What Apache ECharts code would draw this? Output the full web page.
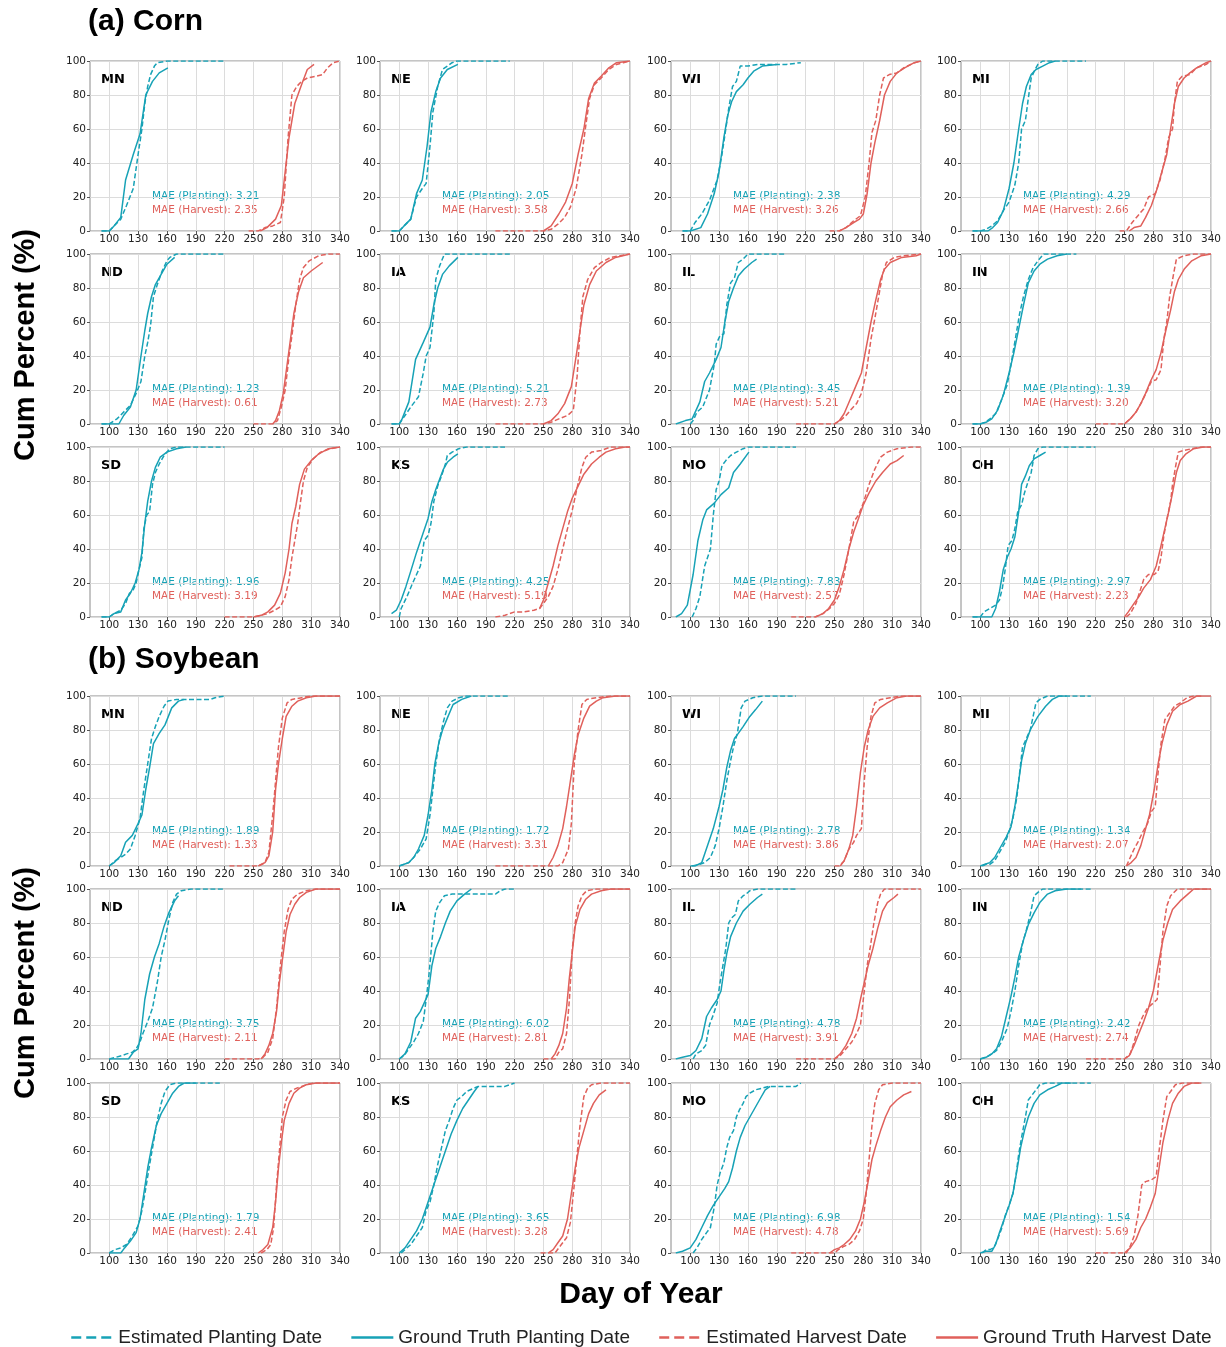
<!DOCTYPE html>
<html>
<head>
<meta charset="utf-8">
<script src="https://cdn.jsdelivr.net/npm/echarts@6/dist/echarts.min.js"></script>
<style>
  html, body { margin: 0; padding: 0; background: #fff; }
  #main { width: 1226px; height: 1347px; }
</style>
</head>
<body>
<div id="main"></div>
<script>
// state order: rows of 4, three rows per crop
const states = ["MN", "NE", "WI", "MI", "ND", "IA", "IL", "IN", "SD", "KS", "MO", "OH"];
const xTicks = [100, 130, 160, 190, 220, 250, 280, 310, 340];
const seriesNames = [
  "Estimated Planting Date",
  "Ground Truth Planting Date",
  "Estimated Harvest Date",
  "Ground Truth Harvest Date"
];

const cornMaePlant = [3.21, 2.05, 2.38, 4.29, 1.23, 5.21, 3.45, 1.39, 1.96, 4.25, 7.83, 2.97];
const cornMaeHarv = [2.35, 3.58, 3.26, 2.66, 0.61, 2.73, 5.21, 3.20, 3.19, 5.19, 2.57, 2.23];
const soyMaePlant = [1.89, 1.72, 2.78, 1.34, 3.75, 6.02, 4.78, 2.42, 1.79, 3.65, 6.98, 1.54];
const soyMaeHarv = [1.33, 3.31, 3.86, 2.07, 2.11, 2.81, 3.91, 2.74, 2.41, 3.28, 4.78, 5.69];

// each panel: [est planting, truth planting, est harvest, truth harvest], points are [day, cum %]
const cornMN = [
  [[92,0],[100,0],[105,3],[112,7],[118,15],[125,25],[130,45],[134,60],[137,75],[140,85],[143,92],[147,97],[150,99],[160,100],[220,100]],
  [[92,0],[100,0],[105,3],[112,8],[117,30],[125,45],[132,57],[138,80],[145,88],[152,93],[161,96]],
  [[245,0],[255,0],[262,2],[270,3],[278,5],[282,20],[286,55],[290,80],[295,85],[300,88],[306,90],[315,91],[322,92],[327,96],[333,99],[340,100]],
  [[257,0],[264,2],[273,7],[279,15],[283,35],[287,55],[293,75],[300,86],[306,95],[313,98]]
];
const cornNE = [
  [[92,0],[100,0],[105,3],[112,7],[118,20],[124,25],[128,28],[132,50],[135,70],[140,85],[145,95],[155,99],[160,100],[215,100]],
  [[92,0],[100,0],[105,3],[112,7],[118,22],[124,30],[129,50],[133,70],[138,82],[143,90],[150,95],[161,98]],
  [[200,0],[250,0],[258,1],[265,4],[272,8],[278,14],[284,25],[290,45],[294,62],[298,78],[303,86],[310,90],[318,95],[326,98],[333,99],[340,100]],
  [[250,0],[258,3],[266,10],[273,17],[280,28],[286,45],[292,60],[297,78],[303,87],[310,91],[318,96],[326,99],[340,100]]
];
const cornWI = [
  [[92,0],[100,0],[105,5],[112,10],[120,18],[128,30],[133,45],[137,60],[140,72],[144,85],[148,88],[152,97],[160,97],[170,98],[200,98],[215,99]],
  [[92,0],[100,0],[111,2],[118,10],[125,22],[130,35],[135,55],[139,68],[143,76],[148,82],[155,86],[160,90],[166,94],[175,97],[190,98]],
  [[245,0],[255,0],[262,2],[270,6],[277,9],[282,20],[286,40],[289,58],[293,65],[297,80],[301,90],[307,92],[315,93],[322,96],[333,99],[340,100]],
  [[255,0],[262,2],[270,5],[276,7],[280,10],[284,22],[288,40],[292,52],[297,65],[302,80],[308,88],[315,93],[323,96],[333,99],[340,100]]
];
const cornMI = [
  [[92,0],[100,0],[106,1],[112,3],[118,6],[124,12],[130,17],[136,27],[140,40],[143,60],[147,65],[150,78],[153,90],[157,95],[160,98],[165,100],[210,100]],
  [[92,0],[100,0],[108,0],[113,2],[118,5],[124,12],[130,25],[135,40],[140,60],[144,75],[148,85],[153,92],[158,95],[165,97],[172,99],[178,100]],
  [[245,0],[252,0],[258,5],[264,9],[270,13],[275,20],[282,22],[287,30],[292,42],[296,55],[300,60],[302,75],[305,88],[310,91],[318,92],[325,96],[335,98],[340,100]],
  [[255,0],[260,2],[267,3],[272,8],[278,15],[284,25],[289,35],[294,45],[298,60],[302,75],[306,85],[312,90],[318,93],[325,96],[335,99],[340,100]]
];
const cornND = [
  [[92,0],[100,0],[108,3],[115,7],[122,11],[128,18],[133,25],[137,40],[140,48],[143,58],[146,75],[150,82],[155,90],[160,96],[163,98],[170,100],[220,100]],
  [[92,0],[100,0],[110,0],[115,5],[122,10],[128,20],[133,40],[137,55],[140,65],[144,75],[148,82],[154,88],[160,94],[168,98]],
  [[250,0],[270,0],[275,2],[279,10],[283,20],[287,40],[290,52],[294,70],[298,85],[302,92],[308,96],[318,99],[328,100],[340,100]],
  [[270,0],[273,2],[277,8],[281,18],[285,35],[289,52],[292,65],[297,78],[302,86],[310,90],[322,95]]
];
const cornIA = [
  [[92,0],[100,0],[106,5],[112,10],[120,16],[125,30],[128,40],[132,45],[136,65],[138,85],[142,93],[147,100],[160,100],[215,100]],
  [[92,0],[100,0],[103,3],[110,13],[117,38],[125,48],[132,57],[136,70],[140,80],[145,88],[152,93],[161,98]],
  [[200,0],[250,0],[258,1],[266,3],[275,5],[281,8],[285,28],[288,55],[291,75],[296,85],[303,92],[310,95],[320,98],[330,99],[340,100]],
  [[250,0],[258,2],[265,6],[272,12],[279,22],[284,40],[288,55],[292,70],[298,82],[305,90],[315,95],[325,98],[340,100]]
];
const cornIL = [
  [[100,0],[103,2],[107,7],[113,10],[120,20],[125,35],[127,47],[131,52],[135,53],[138,70],[142,83],[146,86],[150,95],[155,97],[160,100],[200,100]],
  [[85,0],[95,2],[102,3],[106,8],[110,13],[115,25],[120,30],[127,38],[132,45],[136,60],[140,72],[145,80],[150,87],[156,91],[164,95],[169,97]],
  [[210,0],[250,0],[256,2],[262,5],[268,9],[273,12],[278,18],[283,30],[288,50],[292,62],[296,75],[300,88],[304,95],[312,98],[322,99],[340,100]],
  [[250,0],[255,2],[260,6],[266,14],[272,22],[278,30],[283,45],[288,60],[293,73],[298,85],[302,91],[308,95],[320,98],[335,99],[340,100]]
];
const cornIN = [
  [[92,0],[100,0],[105,1],[110,3],[116,6],[122,14],[128,23],[132,35],[135,45],[138,55],[141,65],[145,75],[150,85],[155,92],[160,96],[166,100],[200,100]],
  [[92,0],[100,0],[106,1],[112,3],[118,8],[124,17],[130,30],[135,42],[140,56],[145,70],[150,83],[156,90],[162,94],[170,97],[180,99],[190,100]],
  [[220,0],[250,0],[256,3],[262,7],[268,13],[273,19],[278,25],[283,26],[288,32],[291,50],[294,60],[297,75],[301,88],[304,97],[312,99],[322,100],[340,100]],
  [[250,0],[256,3],[262,7],[267,12],[272,18],[277,25],[283,32],[288,42],[293,55],[298,67],[302,78],[306,85],[312,91],[320,96],[330,99],[340,100]]
];
const cornSD = [
  [[92,0],[100,0],[105,2],[112,4],[117,8],[121,14],[125,16],[128,20],[131,28],[134,35],[136,52],[139,60],[142,62],[145,78],[148,85],[152,90],[157,95],[163,99],[170,100],[220,100]],
  [[92,0],[100,0],[105,2],[112,3],[117,10],[122,14],[127,20],[131,28],[134,38],[137,55],[140,68],[144,80],[148,88],[153,94],[160,97],[170,99],[180,100]],
  [[220,0],[250,0],[258,1],[265,2],[272,4],[278,6],[283,12],[287,22],[290,35],[293,45],[296,55],[299,68],[302,80],[306,88],[312,93],[320,97],[330,99],[340,100]],
  [[250,0],[258,1],[265,3],[272,7],[278,14],[283,26],[287,40],[290,55],[294,65],[298,78],[303,87],[310,92],[318,96],[328,99],[340,100]]
];
const cornKS = [
  [[100,0],[102,5],[108,12],[114,20],[118,25],[122,30],[126,45],[130,48],[133,55],[136,68],[140,77],[144,83],[148,90],[150,95],[155,97],[162,99],[170,100],[210,100]],
  [[92,2],[97,4],[102,10],[107,18],[112,27],[118,38],[124,48],[130,58],[134,68],[138,75],[142,81],[146,87],[150,91],[156,94],[161,96]],
  [[200,0],[210,1],[220,3],[230,3],[240,4],[246,5],[250,8],[255,12],[260,18],[265,28],[270,40],[275,52],[280,63],[285,76],[290,88],[294,94],[300,97],[310,98],[320,100],[340,100]],
  [[246,5],[250,10],[255,20],[260,30],[265,42],[270,52],[275,62],[280,70],[286,77],[292,84],[300,90],[308,94],[315,97],[325,99],[335,100],[340,100]]
];
const cornMO = [
  [[102,0],[106,5],[110,12],[115,30],[118,35],[121,40],[124,60],[127,75],[130,80],[133,89],[137,92],[142,95],[148,97],[155,99],[160,100],[210,100]],
  [[85,0],[91,2],[97,7],[103,25],[108,45],[113,57],[117,63],[125,67],[132,72],[140,76],[145,85],[152,90],[161,97]],
  [[205,0],[230,0],[238,2],[245,5],[250,8],[255,13],[260,25],[265,40],[270,56],[275,60],[280,67],[286,78],[292,87],[298,94],[305,97],[315,99],[330,100],[340,100]],
  [[230,0],[238,2],[244,5],[250,10],[255,18],[260,28],[265,40],[270,50],[275,58],[280,66],[286,73],[293,80],[300,85],[308,90],[315,92],[322,95]]
];
const cornOH = [
  [[92,0],[100,0],[104,3],[110,5],[116,7],[120,10],[123,17],[126,28],[129,42],[133,45],[136,52],[139,62],[143,66],[146,73],[150,80],[153,85],[156,95],[160,99],[165,100],[220,100]],
  [[92,0],[100,0],[112,0],[116,5],[120,15],[124,28],[128,35],[132,40],[136,47],[140,62],[143,78],[147,83],[151,89],[156,93],[162,95],[168,97]],
  [[252,0],[256,2],[262,8],[266,15],[270,22],[275,25],[281,25],[285,27],[288,35],[291,48],[294,57],[298,68],[300,78],[303,88],[306,97],[312,98],[320,99],[330,100],[340,100]],
  [[250,0],[254,3],[260,8],[265,12],[270,17],[277,22],[283,30],[288,42],[292,52],[296,62],[300,73],[304,85],[308,92],[314,96],[322,99],[332,100],[340,100]]
];

const soyMN = [
  [[100,0],[106,3],[112,5],[117,7],[122,10],[127,18],[132,28],[136,45],[140,60],[144,75],[148,82],[152,88],[157,94],[161,97],[170,98],[190,98],[205,98],[210,99],[220,100]],
  [[100,0],[105,2],[112,6],[117,14],[124,18],[130,25],[134,30],[138,45],[142,58],[146,72],[152,78],[158,83],[165,93],[172,97],[178,98]],
  [[225,0],[255,0],[262,2],[266,8],[270,30],[273,50],[276,70],[280,87],[285,96],[290,98],[300,99],[310,100],[340,100]],
  [[255,0],[262,2],[266,6],[270,20],[273,45],[276,60],[280,75],[284,88],[290,94],[296,97],[305,99],[315,100],[340,100]]
];
const soyNE = [
  [[100,0],[105,1],[110,2],[115,5],[122,10],[128,16],[132,30],[135,45],[138,60],[142,75],[146,85],[150,93],[155,97],[162,99],[170,100],[215,100]],
  [[100,0],[105,1],[110,2],[115,5],[120,10],[126,18],[130,30],[134,45],[137,60],[141,72],[145,80],[150,87],[156,95],[165,98],[175,100]],
  [[200,0],[265,0],[270,2],[276,10],[279,25],[282,60],[286,80],[290,95],[295,98],[305,99],[320,100],[340,100]],
  [[255,0],[260,5],[265,12],[270,22],[274,35],[278,50],[282,65],[286,77],[292,87],[298,94],[305,97],[312,99],[325,100],[340,100]]
];
const soyWI = [
  [[102,0],[110,1],[115,2],[121,5],[126,12],[130,22],[134,35],[138,50],[142,62],[145,70],[149,78],[153,93],[157,97],[165,99],[175,100],[210,100]],
  [[100,0],[105,0],[112,2],[118,12],[124,22],[130,35],[134,45],[138,58],[142,68],[146,75],[150,78],[155,82],[162,88],[168,92],[175,97]],
  [[250,0],[255,0],[260,3],[265,10],[270,14],[273,18],[278,22],[281,50],[284,70],[288,88],[292,96],[298,98],[308,99],[320,100],[340,100]],
  [[256,0],[260,3],[265,10],[269,18],[273,35],[277,55],[281,70],[285,80],[290,88],[297,93],[305,96],[315,99],[325,100],[340,100]]
];
const soyMI = [
  [[102,0],[106,1],[110,1],[115,3],[120,8],[126,14],[130,20],[134,28],[138,40],[141,55],[144,70],[148,75],[152,80],[155,88],[158,96],[162,98],[170,100],[215,100]],
  [[100,0],[105,1],[110,2],[115,5],[120,10],[127,17],[132,23],[136,35],[140,50],[143,62],[147,72],[152,80],[160,88],[168,94],[175,98],[182,100],[190,100]],
  [[252,0],[256,5],[260,10],[264,14],[269,20],[274,25],[278,32],[282,35],[285,55],[288,72],[292,86],[297,90],[302,94],[308,96],[315,99],[322,100],[330,100]],
  [[252,0],[257,2],[262,5],[267,12],[271,20],[276,30],[281,45],[285,60],[289,72],[294,83],[300,91],[308,95],[316,97],[325,100],[340,100]]
];
const soyND = [
  [[100,0],[107,1],[113,2],[118,3],[124,4],[128,6],[132,10],[135,15],[140,22],[145,30],[150,45],[154,60],[158,70],[162,82],[166,92],[170,97],[175,99],[185,100],[220,100]],
  [[100,0],[110,0],[120,0],[125,4],[130,6],[133,15],[137,35],[142,50],[147,60],[152,68],[157,78],[162,86],[168,93],[172,96]],
  [[220,0],[255,0],[260,1],[265,4],[270,12],[274,30],[278,55],[282,75],[286,88],[290,94],[296,97],[305,99],[315,100],[340,100]],
  [[258,0],[262,3],[266,8],[270,15],[274,28],[277,45],[280,58],[284,75],[288,85],[293,91],[298,95],[305,98],[315,100],[340,100]]
];
const soyIA = [
  [[100,0],[105,2],[110,6],[115,10],[120,15],[125,22],[128,35],[131,50],[135,75],[138,87],[142,92],[147,96],[155,97],[170,97],[190,97],[200,97],[205,99],[210,100],[220,100]],
  [[100,0],[106,3],[112,10],[117,24],[122,28],[126,33],[130,38],[134,55],[138,65],[143,72],[148,80],[153,87],[160,93],[168,97],[175,100]],
  [[250,0],[262,0],[266,4],[270,6],[274,15],[277,35],[280,65],[283,80],[286,90],[290,96],[295,99],[305,100],[340,100]],
  [[258,0],[262,3],[266,8],[270,15],[274,30],[277,48],[280,63],[283,78],[288,88],[294,94],[300,97],[310,99],[320,100],[340,100]]
];
const soyIL = [
  [[103,0],[106,3],[112,5],[116,8],[120,20],[124,26],[128,33],[131,45],[134,55],[137,65],[140,80],[143,83],[147,85],[150,93],[155,96],[158,97],[162,99],[170,100],[210,100]],
  [[85,0],[92,1],[100,2],[106,5],[112,12],[117,25],[122,30],[128,35],[132,40],[135,52],[138,62],[142,72],[148,80],[155,87],[162,91],[170,95],[175,97]],
  [[210,0],[250,0],[256,2],[262,6],[268,10],[273,15],[277,20],[280,35],[284,55],[287,65],[291,80],[295,92],[298,97],[302,100],[340,100]],
  [[250,0],[256,3],[262,8],[268,15],[273,24],[277,35],[281,45],[285,55],[290,65],[295,77],[300,87],[305,92],[312,95],[316,97]]
];
const soyIN = [
  [[100,0],[106,1],[112,3],[117,5],[122,10],[128,18],[132,28],[136,40],[140,55],[144,68],[148,76],[152,85],[156,96],[160,98],[165,100],[215,100]],
  [[100,0],[106,1],[112,3],[117,6],[122,13],[127,25],[132,37],[136,48],[140,60],[145,70],[150,79],[156,86],[162,92],[170,97],[178,99],[190,100],[205,100]],
  [[210,0],[250,0],[256,3],[260,10],[265,20],[269,25],[274,30],[280,33],[284,35],[287,55],[290,75],[294,90],[298,96],[305,100],[340,100]],
  [[250,0],[255,2],[260,8],[265,15],[270,22],[275,30],[280,40],[285,55],[290,70],[295,80],[300,88],[308,93],[316,97],[322,100],[340,100]]
];
const soySD = [
  [[100,0],[106,2],[112,3],[118,5],[124,10],[130,16],[134,25],[138,38],[142,52],[146,65],[150,78],[154,88],[158,95],[163,99],[170,100],[215,100]],
  [[100,0],[108,0],[112,0],[116,3],[122,7],[128,12],[132,20],[136,35],[140,50],[144,62],[149,75],[154,82],[160,88],[166,94],[172,98],[178,100],[190,100]],
  [[258,0],[264,2],[268,5],[271,15],[274,40],[277,60],[280,80],[284,90],[288,95],[295,97],[305,99],[312,100],[340,100]],
  [[255,0],[260,2],[265,5],[270,15],[273,30],[276,50],[279,65],[282,78],[287,88],[292,94],[298,97],[305,99],[315,100],[340,100]]
];
const soyKS = [
  [[102,0],[106,2],[112,5],[118,10],[124,15],[128,25],[132,30],[136,40],[140,52],[144,62],[148,72],[152,78],[156,85],[160,90],[165,92],[170,95],[178,97],[182,98],[190,98],[210,98],[215,99],[220,100]],
  [[100,0],[106,3],[112,8],[118,13],[124,20],[130,30],[136,40],[142,50],[148,60],[154,70],[160,78],[166,85],[172,90],[178,95],[182,98]],
  [[247,0],[262,0],[266,3],[270,6],[274,9],[278,18],[282,40],[285,58],[288,75],[292,92],[296,97],[300,99],[310,100],[340,100]],
  [[255,0],[260,2],[265,6],[270,10],[275,20],[279,35],[283,50],[287,62],[292,72],[297,82],[302,88],[308,93],[315,96]]
];
const soyMO = [
  [[103,0],[107,3],[112,8],[117,12],[121,15],[125,27],[128,40],[131,47],[135,53],[138,62],[141,68],[145,72],[148,80],[151,84],[155,88],[158,92],[162,94],[168,96],[175,97],[182,98],[210,98],[215,100]],
  [[85,0],[92,1],[100,3],[106,8],[112,15],[118,22],[124,28],[130,33],[136,38],[140,42],[144,50],[148,60],[152,68],[157,75],[162,80],[167,85],[172,90],[178,96],[183,98]],
  [[205,0],[250,0],[254,2],[260,4],[265,5],[271,8],[276,13],[280,20],[283,35],[286,55],[289,75],[292,88],[296,96],[300,99],[310,100],[340,100]],
  [[245,0],[250,2],[255,3],[260,5],[266,8],[272,13],[277,20],[281,30],[285,42],[289,55],[293,63],[298,72],[303,80],[308,86],[315,90],[322,93],[330,95]]
];
const soyOH = [
  [[102,0],[106,2],[110,2],[114,3],[118,8],[122,14],[126,22],[130,28],[134,35],[137,45],[140,58],[143,68],[147,80],[150,90],[154,93],[158,96],[162,99],[168,100],[215,100]],
  [[100,0],[106,1],[112,1],[116,5],[120,12],[125,20],[130,28],[134,35],[138,48],[142,62],[146,72],[150,80],[156,88],[162,93],[170,96],[178,98],[185,100],[195,100]],
  [[220,0],[252,0],[256,4],[260,10],[264,22],[268,40],[272,42],[278,43],[283,45],[286,60],[290,78],[294,92],[298,95],[303,99],[310,100],[330,100]],
  [[250,0],[256,3],[262,8],[267,15],[272,20],[277,27],[282,35],[286,50],[290,65],[295,78],[300,88],[306,94],[312,98],[320,100],[330,100]]
];

const cornPanels = [cornMN, cornNE, cornWI, cornMI, cornND, cornIA, cornIL, cornIN, cornSD, cornKS, cornMO, cornOH];
const soyPanels = [soyMN, soyNE, soyWI, soyMI, soyND, soyIA, soyIL, soyIN, soySD, soyKS, soyMO, soyOH];

const TEAL = "#17a2b6";
const RED = "#e0605b";
const FONT = "DejaVu Sans";
const HEAD_FONT = "Liberation Sans";
const colLeft = [90, 380, 671, 961];
const rowTops = [61, 254, 447, 696, 889, 1083];
const panelW = 250;
const panelH = 170;

const chart = echarts.init(document.getElementById("main"), null, { renderer: "canvas" });

const grids = [], xAxes = [], yAxes = [], series = [], graphics = [];
const crops = [
  { panels: cornPanels, maeP: cornMaePlant, maeH: cornMaeHarv },
  { panels: soyPanels, maeP: soyMaePlant, maeH: soyMaeHarv }
];

crops.forEach((crop, ci) => {
  crop.panels.forEach((lines, k) => {
    const idx = grids.length;
    const left = colLeft[k % 4];
    const top = rowTops[ci * 3 + Math.floor(k / 4)];
    grids.push({
      left: left, top: top, width: panelW, height: panelH,
      show: true, borderColor: "#8a8a8a", borderWidth: 1, backgroundColor: "transparent"
    });
    xAxes.push({
      type: "value", gridIndex: idx, min: 80, max: 340,
      axisLine: { show: false },
      axisTick: { show: true, customValues: xTicks, length: 3, lineStyle: { color: "#555" } },
      axisLabel: { customValues: xTicks, fontSize: 10.5, color: "#222", fontFamily: FONT, margin: 3 },
      splitLine: { show: true, lineStyle: { color: "#dcdcdc", width: 1 } }
    });
    yAxes.push({
      type: "value", gridIndex: idx, min: 0, max: 100, interval: 20,
      axisLine: { show: false },
      axisTick: { show: true, length: 3, lineStyle: { color: "#555" } },
      axisLabel: { fontSize: 10.5, color: "#222", fontFamily: FONT, margin: 4 },
      splitLine: { show: true, lineStyle: { color: "#dcdcdc", width: 1 } }
    });
    lines.forEach((pts, j) => {
      series.push({
        name: seriesNames[j],
        type: "line",
        xAxisIndex: idx, yAxisIndex: idx,
        data: pts,
        symbol: "none",
        animation: false,
        z: j % 2 === 0 ? 3 : 2,
        lineStyle: {
          color: j < 2 ? TEAL : RED,
          width: 1.5,
          type: j % 2 === 0 ? [5, 2.5] : "solid"
        },
        itemStyle: { color: j < 2 ? TEAL : RED }
      });
    });
    graphics.push({
      type: "text", left: left + 11, top: top + 12,
      style: { text: states[k], font: "bold 13px " + FONT, fill: "#000" }
    });
    graphics.push({
      type: "text", left: left + 62, top: top + 130,
      style: { text: "MAE (Planting): " + crop.maeP[k].toFixed(2), font: "10.5px " + FONT, fill: TEAL }
    });
    graphics.push({
      type: "text", left: left + 62, top: top + 144,
      style: { text: "MAE (Harvest): " + crop.maeH[k].toFixed(2), font: "10.5px " + FONT, fill: RED }
    });
  });
});

// panel titles and shared axis titles
graphics.push({ type: "text", x: 88, y: 22, style: { text: "(a) Corn", font: "bold 30px " + HEAD_FONT, fill: "#000", verticalAlign: "middle" } });
graphics.push({ type: "text", x: 88, y: 660, style: { text: "(b) Soybean", font: "bold 30px " + HEAD_FONT, fill: "#000", verticalAlign: "middle" } });
[345, 983].forEach(cy => {
  graphics.push({
    type: "text", x: 26, y: cy, rotation: Math.PI / 2,
    style: { text: "Cum Percent (%)", font: "bold 29px " + HEAD_FONT, fill: "#000", align: "center", verticalAlign: "middle" }
  });
});
graphics.push({
  type: "text", x: 641, y: 1295,
  style: { text: "Day of Year", font: "bold 30px " + HEAD_FONT, fill: "#000", align: "center", verticalAlign: "middle" }
});

const legendItems = seriesNames.map((name, j) => ({
  name: name,
  lineStyle: { width: 2.5, type: j % 2 === 0 ? [10, 5] : "solid" }
}));

chart.setOption({
  animation: false,
  backgroundColor: "#fff",
  grid: grids,
  xAxis: xAxes,
  yAxis: yAxes,
  series: series,
  graphic: graphics,
  legend: {
    data: legendItems,
    left: 65,
    top: 1323,
    itemWidth: 42,
    itemHeight: 14,
    itemGap: 28,
    itemStyle: { opacity: 0 },
    textStyle: { fontSize: 19, color: "#222", fontFamily: HEAD_FONT },
    selectedMode: false
  }
});
</script>
</body>
</html>
